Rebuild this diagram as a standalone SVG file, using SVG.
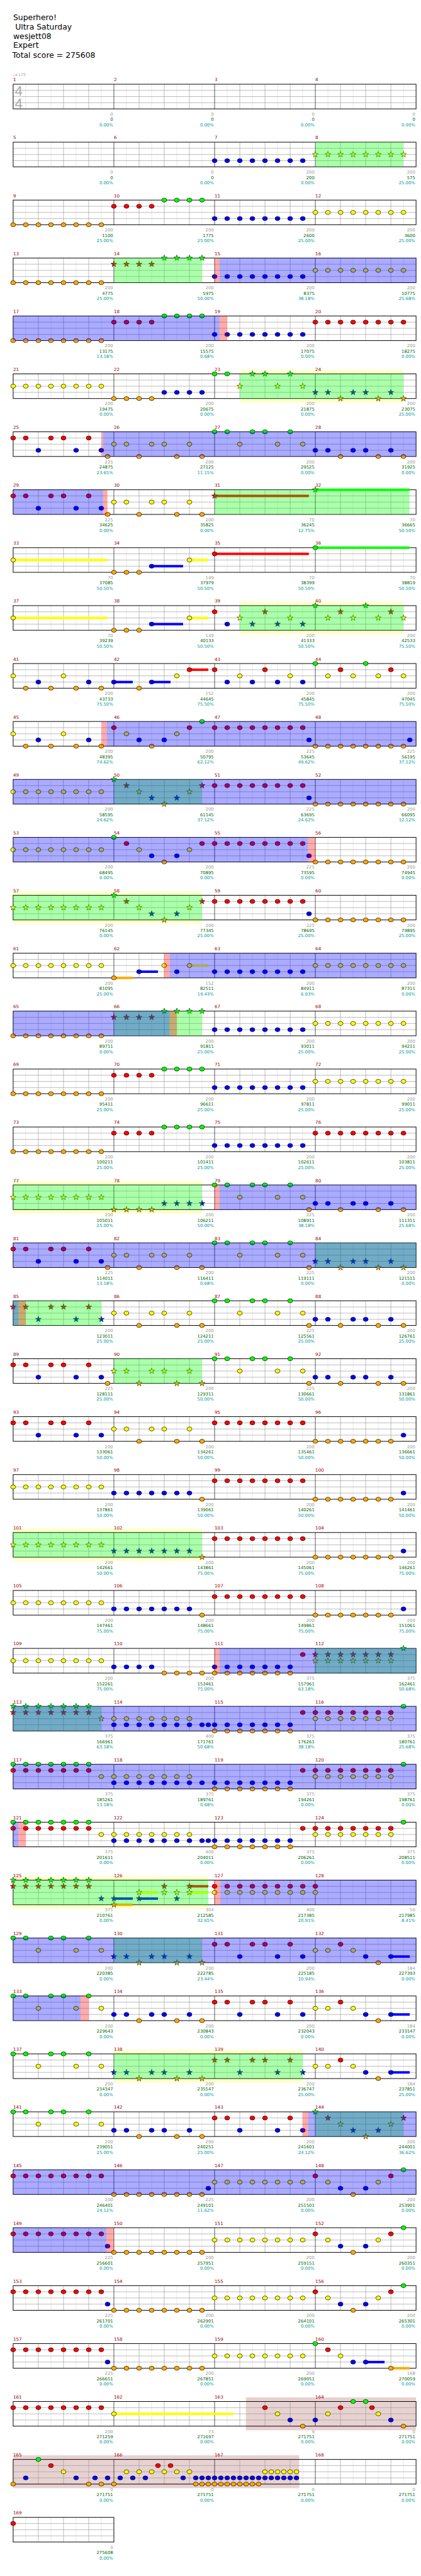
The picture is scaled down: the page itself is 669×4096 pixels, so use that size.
<svg xmlns="http://www.w3.org/2000/svg" width="669" height="4096" viewBox="0 0 669 4096">
<defs>
<style>
text{font-family:"DejaVu Sans",sans-serif}
.h{font-size:19px;fill:#000}
.mn{font-size:11px;fill:#900}
.t1,.t2,.t3{font-size:10.5px;text-anchor:end}
.t1{fill:#999}.t2{fill:#060}.t3{fill:#099}
.gr{fill:#0f0;fill-opacity:.33}
.bl{fill:#00f;fill-opacity:.33}
.pk{fill:#f00;fill-opacity:.33}
.yb{fill:#ffc}
.bx{fill:#800000;fill-opacity:.18}
</style>
<ellipse id="e" rx="6" ry="5" stroke="#000"/>
<path id="s" d="M0-7.5L1.76-2.43 7.13-2.32 2.85.93 4.41 6.07 0 3-4.41 6.07-2.85.93-7.13-2.32-1.76-2.43Z" stroke="#000" stroke-width=".8"/>
<g id="e4"><use href="#e"/><use href="#e" x="30.6"/><use href="#e" x="61.3"/><use href="#e" x="91.9"/></g>
<g id="e8"><use href="#e4"/><use href="#e4" x="122.5"/></g>
<g id="e7"><use href="#e4"/><use href="#e" x="122.5"/><use href="#e" x="153.1"/><use href="#e" x="183.8"/></g>
<g id="e5"><use href="#e"/><use href="#e" x="30.6"/><use href="#e" x="91.9"/><use href="#e" x="122.5"/><use href="#e" x="183.8"/></g>
<g id="e3"><use href="#e" x="61.3"/><use href="#e" x="153.1"/><use href="#e" x="214.4"/></g>
<g id="eo"><use href="#e" x="30.6"/><use href="#e" x="91.9"/><use href="#e" x="153.1"/><use href="#e" x="214.4"/></g>
<g id="ea"><use href="#e"/><use href="#e" x="122.5"/></g>
<g id="eb"><use href="#e" x="61.3"/><use href="#e" x="183.8"/></g>
<g id="s4"><use href="#s"/><use href="#s" x="30.6"/><use href="#s" x="61.3"/><use href="#s" x="91.9"/></g>
<g id="s8"><use href="#s4"/><use href="#s4" x="122.5"/></g>
<g id="s7"><use href="#s4"/><use href="#s" x="122.5"/><use href="#s" x="153.1"/><use href="#s" x="183.8"/></g>
<g id="s5"><use href="#s"/><use href="#s" x="30.6"/><use href="#s" x="91.9"/><use href="#s" x="122.5"/><use href="#s" x="183.8"/></g>
<g id="s3"><use href="#s" x="61.3"/><use href="#s" x="153.1"/><use href="#s" x="214.4"/></g>
<g id="o8"><use href="#e8" y="60" fill="#fa0"/></g>
<g id="r8"><use href="#e8" y="15" fill="#f00"/></g>
<g id="y8"><use href="#e8" y="30" fill="#ff0"/></g>
<g id="b8"><use href="#e8" y="45" fill="#00f"/></g>
<g id="Ys8"><use href="#s8" y="30" fill="#ff0"/></g>
<g id="RG"><use href="#e4" y="15" fill="#f00"/><use href="#e4" x="122.5" fill="#0f0"/></g>
<g id="sRG"><use href="#s4" y="15" fill="#f00"/><use href="#s4" x="122.5" fill="#0f0"/></g>
<g id="A"><use href="#e5" y="15" fill="#f00"/><use href="#e3" y="45" fill="#00f"/></g>
<g id="Bp"><use href="#e5" y="30" fill="#ff0"/><use href="#e3" y="60" fill="#fa0"/></g>
<g id="Cp"><use href="#e5" fill="#0f0"/><use href="#e3" y="30" fill="#ff0"/></g>
<g id="Dp"><use href="#e5" y="45" fill="#00f"/><use href="#e3" y="60" fill="#fa0"/></g>
<g id="sA"><use href="#s5" y="15" fill="#f00"/><use href="#s3" y="45" fill="#00f"/></g>
<g id="sBp"><use href="#s5" y="30" fill="#ff0"/><use href="#s3" y="60" fill="#fa0"/></g>
<g id="sDp"><use href="#s5" y="45" fill="#00f"/><use href="#s3" y="60" fill="#fa0"/></g>
<g id="E"><rect x="183.8" y="42" width="45.9" height="6" fill="#00f"/><use href="#e" y="30" fill="#ff0"/><use href="#e" x="30.6" y="30" fill="#ff0"/><use href="#e" x="61.3" y="15" fill="#f00"/><use href="#e" x="91.9" y="30" fill="#ff0"/><use href="#e" x="122.5" y="45" fill="#00f"/><use href="#e" x="153.1" y="60" fill="#fa0"/><use href="#e" x="183.8" y="45" fill="#00f"/></g>
<g id="P"><use href="#e" y="15" fill="#f00"/><use href="#e" x="30.6" y="30" fill="#ff0"/><use href="#e" x="61.3" y="45" fill="#00f"/><use href="#e" x="91.9" y="60" fill="#fa0"/><use href="#e" x="122.5" y="45" fill="#00f"/><use href="#e" x="153.1" y="30" fill="#ff0"/><use href="#e" x="183.8" y="15" fill="#f00"/><use href="#e" x="214.4" fill="#0f0"/></g>
<g id="SC"><use href="#e" fill="#0f0"/><use href="#e" x="30.6" y="15" fill="#f00"/><use href="#e" x="61.3" y="30" fill="#ff0"/><use href="#e" x="91.9" y="45" fill="#00f"/><use href="#e" x="122.5" y="60" fill="#fa0"/><use href="#e" x="153.1" y="45" fill="#00f"/><use href="#e" x="183.8" y="30" fill="#ff0"/><use href="#e" x="214.4" y="15" fill="#f00"/></g>
<g id="sSC"><use href="#s" fill="#0f0"/><use href="#s" x="30.6" y="15" fill="#f00"/><use href="#s" x="61.3" y="30" fill="#ff0"/><use href="#s" x="91.9" y="45" fill="#00f"/><use href="#s" x="122.5" y="60" fill="#fa0"/><use href="#s" x="153.1" y="45" fill="#00f"/><use href="#s" x="183.8" y="30" fill="#ff0"/><use href="#s" x="214.4" y="15" fill="#f00"/></g>
<g id="Q"><use href="#ea" y="30" fill="#ff0"/><use href="#eo" y="60" fill="#fa0"/><use href="#eb" y="45" fill="#00f"/></g>
<g id="O7B"><use href="#e7" y="60" fill="#fa0"/><use href="#e" x="214.4" y="45" fill="#00f"/></g>
<g id="B7O"><use href="#e7" y="45" fill="#00f"/><use href="#e" x="214.4" y="60" fill="#fa0"/></g>
<g id="sB7O"><use href="#s7" y="45" fill="#00f"/><use href="#s" x="214.4" y="60" fill="#fa0"/></g>
<g id="BOr"><use href="#e7" y="45" fill="#00f"/><use href="#e7" y="60" fill="#fa0"/><use href="#e" x="214.4" y="15" fill="#f00"/></g>
<g id="RYg"><use href="#e7" y="15" fill="#f00"/><use href="#e7" y="30" fill="#ff0"/><use href="#e" x="214.4" fill="#0f0"/></g>
<g id="GRy"><use href="#e7" fill="#0f0"/><use href="#e7" y="15" fill="#f00"/><use href="#e" x="214.4" y="30" fill="#ff0"/></g>
<g id="YB"><use href="#e7" y="30" fill="#ff0"/><use href="#e8" y="45" fill="#00f"/></g>
<g id="S1"><rect y="27" width="229.3" height="6" fill="#ff0"/><use href="#e" y="30" fill="#ff0"/></g>
<g id="S2"><use href="#e" y="60" fill="#fa0"/><use href="#e" x="30.6" y="60" fill="#fa0"/><use href="#e" x="61.3" y="60" fill="#fa0"/><rect x="91.9" y="42" width="76.4" height="6" fill="#00f"/><use href="#e" x="91.9" y="45" fill="#00f"/><rect x="183.8" y="27" width="45.9" height="6" fill="#ff0"/><use href="#e" x="183.8" y="30" fill="#ff0"/></g>
<g id="gd">
<path d="M30.6 0V60M91.9 0V60M153.1 0V60M214.4 0V60M275.6 0V60M336.9 0V60M398.1 0V60M459.4 0V60M520.6 0V60M581.9 0V60M643.1 0V60M704.4 0V60M765.6 0V60M826.9 0V60M888.1 0V60M949.4 0V60" stroke="#ddd"/>
<path d="M61.3 0V60M122.5 0V60M183.8 0V60M306.3 0V60M367.5 0V60M428.8 0V60M551.3 0V60M612.5 0V60M673.8 0V60M796.3 0V60M857.5 0V60M918.8 0V60M0 15H980M0 30H980M0 45H980" stroke="#999"/>
<path d="M245 0V60M490 0V60M735 0V60" stroke="#000"/>
<rect width="980" height="60" fill="none" stroke="#000" stroke-width="1.5"/>
</g>
<g id="gd1">
<path d="M30.6 0V60M91.9 0V60M153.1 0V60M214.4 0V60" stroke="#ddd"/>
<path d="M61.3 0V60M122.5 0V60M183.8 0V60M0 15H245M0 30H245M0 45H245" stroke="#999"/>
<rect width="245" height="60" fill="none" stroke="#000" stroke-width="1.5"/>
</g>
<text id="a200" y="76.5" fill="#999" font-size="10.5" text-anchor="end" font-family="DejaVu Sans, sans-serif"><tspan x="243">200</tspan><tspan x="488">200</tspan><tspan x="733">200</tspan><tspan x="978">200</tspan></text>
<text id="a0" y="76.5" fill="#999" font-size="10.5" text-anchor="end" font-family="DejaVu Sans, sans-serif"><tspan x="243">0</tspan><tspan x="488">0</tspan><tspan x="733">0</tspan><tspan x="978">0</tspan></text>
<text id="p0" y="102.5" fill="#099" font-size="10.5" text-anchor="end" font-family="DejaVu Sans, sans-serif"><tspan x="243">0.00%</tspan><tspan x="488">0.00%</tspan><tspan x="733">0.00%</tspan><tspan x="978">0.00%</tspan></text>
<text id="p25" y="102.5" fill="#099" font-size="10.5" text-anchor="end" font-family="DejaVu Sans, sans-serif"><tspan x="243">25.00%</tspan><tspan x="488">25.00%</tspan><tspan x="733">25.00%</tspan><tspan x="978">25.00%</tspan></text>
<text id="p50" y="102.5" fill="#099" font-size="10.5" text-anchor="end" font-family="DejaVu Sans, sans-serif"><tspan x="243">50.00%</tspan><tspan x="488">50.00%</tspan><tspan x="733">50.00%</tspan><tspan x="978">50.00%</tspan></text>
<text id="p75" y="102.5" fill="#099" font-size="10.5" text-anchor="end" font-family="DejaVu Sans, sans-serif"><tspan x="243">75.00%</tspan><tspan x="488">75.00%</tspan><tspan x="733">75.00%</tspan><tspan x="978">75.00%</tspan></text>
<text id="p505" y="102.5" fill="#099" font-size="10.5" text-anchor="end" font-family="DejaVu Sans, sans-serif"><tspan x="243">50.50%</tspan><tspan x="488">50.50%</tspan><tspan x="733">50.50%</tspan><tspan x="978">50.50%</tspan></text>
<text id="p755" y="102.5" fill="#099" font-size="10.5" text-anchor="end" font-family="DejaVu Sans, sans-serif"><tspan x="243">75.50%</tspan><tspan x="488">75.50%</tspan><tspan x="733">75.50%</tspan><tspan x="978">75.50%</tspan></text>
</defs>
<rect width="669" height="4096" fill="#fff"/>
<g transform="scale(0.6533)">
<g id="header">
<text class="h" x="32" y="49">Superhero!</text>
<text class="h" x="37" y="72">Ultra Saturday</text>
<text class="h" x="32" y="95">wesjett08</text>
<text class="h" x="32" y="117">Expert</text>
<text class="h" x="30" y="141">Total score = 275608</text>
<text x="31" y="185" font-size="10" fill="#aaa">♩=175</text>
</g>

<g id="row0" transform="translate(32,205)"><use href="#gd"/>
<text x="4" y="28" font-size="34" fill="#aaa" style="font-family:'Liberation Sans',sans-serif">4</text><text x="4" y="58" font-size="34" fill="#aaa" style="font-family:'Liberation Sans',sans-serif">4</text>
<text class="mn" y="-7"><tspan x="0">1</tspan><tspan x="245">2</tspan><tspan x="490">3</tspan><tspan x="735">4</tspan></text>
<use href="#a0"/><text class="t2" y="89.5"><tspan x="243">0</tspan><tspan x="488">0</tspan><tspan x="733">0</tspan><tspan x="978">0</tspan></text><use href="#p0"/></g>

<g id="row1" transform="translate(32,346)"><use href="#gd"/>
<use href="#b8" x="490"/><use href="#Ys8" x="735"/>
<rect class="gr" x="735" width="214.4" height="60"/>
<text class="mn" y="-7"><tspan x="0">5</tspan><tspan x="245">6</tspan><tspan x="490">7</tspan><tspan x="735">8</tspan></text>
<text class="t1" y="76.5"><tspan x="243">0</tspan><tspan x="488">0</tspan><tspan x="733">200</tspan><tspan x="978">200</tspan></text>
<text class="t2" y="89.5"><tspan x="243">0</tspan><tspan x="488">0</tspan><tspan x="733">200</tspan><tspan x="978">575</tspan></text>
<text class="t3" y="102.5"><tspan x="243">0.00%</tspan><tspan x="488">0.00%</tspan><tspan x="733">0.00%</tspan><tspan x="978">25.00%</tspan></text></g>

<g id="row2" transform="translate(32,487)"><use href="#gd"/>
<use href="#o8"/><use href="#RG" x="245"/><use href="#b8" x="490"/><use href="#y8" x="735"/>
<text class="mn" y="-7"><tspan x="0">9</tspan><tspan x="245">10</tspan><tspan x="490">11</tspan><tspan x="735">12</tspan></text>
<use href="#a200"/><text class="t2" y="89.5"><tspan x="243">1100</tspan><tspan x="488">1775</tspan><tspan x="733">2600</tspan><tspan x="978">3600</tspan></text><use href="#p25"/></g>

<g id="row3" transform="translate(32,628)"><use href="#gd"/>
<use href="#o8"/><use href="#sRG" x="245"/><use href="#b8" x="490"/><use href="#y8" x="735"/>
<rect class="gr" x="245" width="214.4" height="60"/><rect class="bl" x="502" width="478" height="60"/><rect class="pk" x="490" width="12" height="60"/>
<text class="mn" y="-7"><tspan x="0">13</tspan><tspan x="245">14</tspan><tspan x="490">15</tspan><tspan x="735">16</tspan></text>
<use href="#a200"/><text class="t2" y="89.5"><tspan x="243">4775</tspan><tspan x="488">5975</tspan><tspan x="733">8375</tspan><tspan x="978">10775</tspan></text>
<text class="t3" y="102.5"><tspan x="243">25.00%</tspan><tspan x="488">50.00%</tspan><tspan x="733">38.18%</tspan><tspan x="978">25.68%</tspan></text></g>

<g id="row4" transform="translate(32,769)"><use href="#gd"/>
<use href="#o8"/><use href="#RG" x="245"/><use href="#b8" x="490"/><use href="#r8" x="735"/>
<rect class="bl" width="502" height="60"/><rect class="pk" x="502" width="18.7" height="60"/>
<text class="mn" y="-7"><tspan x="0">17</tspan><tspan x="245">18</tspan><tspan x="490">19</tspan><tspan x="735">20</tspan></text>
<use href="#a200"/><text class="t2" y="89.5"><tspan x="243">13175</tspan><tspan x="488">15575</tspan><tspan x="733">17075</tspan><tspan x="978">18275</tspan></text>
<text class="t3" y="102.5"><tspan x="243">13.18%</tspan><tspan x="488">0.68%</tspan><tspan x="733">0.00%</tspan><tspan x="978">0.00%</tspan></text></g>

<g id="row5" transform="translate(32,910)">
<rect class="yb" x="551.3" y="-10" width="398.1" height="80"/><rect fill="#fff" x="551.3" width="398.1" height="60"/><use href="#gd"/>
<use href="#y8"/><use href="#e4" x="245" y="60" fill="#fa0"/><use href="#e4" x="367.5" y="45" fill="#00f"/><use href="#e" x="490" fill="#0f0"/><use href="#e" x="520.6" fill="#0f0"/><use href="#s3" x="490" y="30" fill="#ff0"/><use href="#s" x="581.9" fill="#0f0"/><use href="#s" x="612.5" fill="#0f0"/><use href="#s" x="673.8" fill="#0f0"/><use href="#sDp" x="735"/>
<rect class="gr" x="551.3" width="398.1" height="60"/>
<text class="mn" y="-7"><tspan x="0">21</tspan><tspan x="245">22</tspan><tspan x="490">23</tspan><tspan x="735">24</tspan></text>
<use href="#a200"/><text class="t2" y="89.5"><tspan x="243">19475</tspan><tspan x="488">20675</tspan><tspan x="733">21875</tspan><tspan x="978">23075</tspan></text>
<text class="t3" y="102.5"><tspan x="243">0.00%</tspan><tspan x="488">0.00%</tspan><tspan x="733">0.00%</tspan><tspan x="978">25.00%</tspan></text></g>

<g id="row6" transform="translate(32,1051)"><use href="#gd"/>
<use href="#A"/><use href="#e" x="229.7" y="60" fill="#fa0"/><use href="#Bp" x="245"/><use href="#Cp" x="490"/><use href="#Dp" x="735"/>
<rect class="bl" x="218.7" width="761.3" height="60"/><rect class="pk" x="214.4" width="4.3" height="60"/>
<text class="mn" y="-7"><tspan x="0">25</tspan><tspan x="245">26</tspan><tspan x="490">27</tspan><tspan x="735">28</tspan></text>
<text class="t1" y="76.5"><tspan x="243">225</tspan><tspan x="488">200</tspan><tspan x="733">200</tspan><tspan x="978">200</tspan></text>
<text class="t2" y="89.5"><tspan x="243">24875</tspan><tspan x="488">27125</tspan><tspan x="733">29525</tspan><tspan x="978">31925</tspan></text>
<text class="t3" y="102.5"><tspan x="243">23.65%</tspan><tspan x="488">11.15%</tspan><tspan x="733">0.00%</tspan><tspan x="978">0.00%</tspan></text></g>

<g id="row7" transform="translate(32,1192)"><use href="#gd"/>
<use href="#A"/><use href="#e" x="229.7" y="60" fill="#fa0"/><use href="#Bp" x="245"/><rect x="490" y="12" width="229.3" height="6" fill="#f00"/><use href="#s" x="490" y="15" fill="#f00"/><rect x="735" y="-3" width="229" height="6" fill="#0f0"/><use href="#s" x="735" fill="#0f0"/>
<rect class="gr" x="490" width="474" height="60"/><rect class="bl" width="218.7" height="60"/><rect class="pk" x="218.7" width="10.6" height="60"/>
<text class="mn" y="-7"><tspan x="0">29</tspan><tspan x="245">30</tspan><tspan x="490">31</tspan><tspan x="735">32</tspan></text>
<text class="t1" y="76.5"><tspan x="243">225</tspan><tspan x="488">200</tspan><tspan x="733">70</tspan><tspan x="978">70</tspan></text>
<text class="t2" y="89.5"><tspan x="243">34625</tspan><tspan x="488">35825</tspan><tspan x="733">36245</tspan><tspan x="978">36665</tspan></text>
<text class="t3" y="102.5"><tspan x="243">0.00%</tspan><tspan x="488">0.00%</tspan><tspan x="733">12.75%</tspan><tspan x="978">50.50%</tspan></text></g>

<g id="row8" transform="translate(32,1333)"><use href="#gd"/>
<use href="#S1"/><use href="#S2" x="245"/><rect x="490" y="12" width="229.3" height="6" fill="#f00"/><use href="#e" x="490" y="15" fill="#f00"/><rect x="735" y="-3" width="229" height="6" fill="#0f0"/><use href="#e" x="735" fill="#0f0"/>
<text class="mn" y="-7"><tspan x="0">33</tspan><tspan x="245">34</tspan><tspan x="490">35</tspan><tspan x="735">36</tspan></text>
<text class="t1" y="76.5"><tspan x="243">70</tspan><tspan x="488">149</tspan><tspan x="733">70</tspan><tspan x="978">70</tspan></text>
<text class="t2" y="89.5"><tspan x="243">37085</tspan><tspan x="488">37979</tspan><tspan x="733">38399</tspan><tspan x="978">38819</tspan></text>
<use href="#p505"/></g>

<g id="row9" transform="translate(32,1474)">
<rect class="yb" x="551.3" y="-10" width="398.1" height="80"/><rect fill="#fff" x="551.3" width="398.1" height="60"/><use href="#gd"/>
<use href="#S1"/><use href="#S2" x="245"/><use href="#e" x="490" y="15" fill="#f00"/><use href="#e" x="520.6" y="45" fill="#00f"/>
<use href="#s" x="551.3" y="30" fill="#ff0"/><use href="#s" x="581.9" y="45" fill="#00f"/><use href="#s" x="612.5" y="15" fill="#f00"/><use href="#s" x="643.1" y="45" fill="#00f"/><use href="#s" x="673.8" y="30" fill="#ff0"/><use href="#s" x="704.4" y="45" fill="#00f"/>
<use href="#s" x="735" fill="#0f0"/><use href="#s" x="765.6" y="30" fill="#ff0"/><use href="#s" x="796.3" y="15" fill="#f00"/><use href="#s" x="826.9" y="30" fill="#ff0"/><use href="#s" x="857.5" fill="#0f0"/><use href="#s" x="888.1" y="30" fill="#ff0"/><use href="#s" x="918.8" y="15" fill="#f00"/><use href="#s" x="949.4" y="30" fill="#ff0"/>
<rect class="gr" x="551.3" width="398.1" height="60"/>
<text class="mn" y="-7"><tspan x="0">37</tspan><tspan x="245">38</tspan><tspan x="490">39</tspan><tspan x="735">40</tspan></text>
<text class="t1" y="76.5"><tspan x="243">70</tspan><tspan x="488">149</tspan><tspan x="733">200</tspan><tspan x="978">200</tspan></text>
<text class="t2" y="89.5"><tspan x="243">39239</tspan><tspan x="488">40133</tspan><tspan x="733">41333</tspan><tspan x="978">42533</tspan></text>
<text class="t3" y="102.5"><tspan x="243">50.50%</tspan><tspan x="488">50.50%</tspan><tspan x="733">50.50%</tspan><tspan x="978">75.50%</tspan></text></g>

<g id="row10" transform="translate(32,1615)"><use href="#gd"/>
<use href="#Q"/>
<rect x="245" y="42" width="45.9" height="6" fill="#00f"/><use href="#e" x="245" y="45" fill="#00f"/><use href="#e" x="306.3" y="60" fill="#fa0"/><rect x="336.9" y="42" width="45.9" height="6" fill="#00f"/><use href="#e" x="336.9" y="45" fill="#00f"/><use href="#e" x="398.1" y="30" fill="#ff0"/><rect x="428.8" y="12" width="45.9" height="6" fill="#f00"/><use href="#e" x="428.8" y="15" fill="#f00"/>
<use href="#ea" x="490" y="15" fill="#f00"/><use href="#eb" x="490" y="30" fill="#ff0"/><use href="#eo" x="490" y="45" fill="#00f"/>
<use href="#ea" x="735" fill="#0f0"/><use href="#eo" x="735" y="30" fill="#ff0"/><use href="#eb" x="735" y="15" fill="#f00"/>
<text class="mn" y="-7"><tspan x="0">41</tspan><tspan x="245">42</tspan><tspan x="490">43</tspan><tspan x="735">44</tspan></text>
<text class="t1" y="76.5"><tspan x="243">200</tspan><tspan x="488">152</tspan><tspan x="733">200</tspan><tspan x="978">200</tspan></text>
<text class="t2" y="89.5"><tspan x="243">43733</tspan><tspan x="488">44645</tspan><tspan x="733">45845</tspan><tspan x="978">47045</tspan></text>
<use href="#p755"/></g>

<g id="row11" transform="translate(32,1756)"><use href="#gd"/>
<use href="#Q"/><use href="#P" x="245"/><use href="#r8" x="490"/><use href="#e" x="719.7" y="45" fill="#00f"/><use href="#o8" x="735"/><use href="#e" x="964.7" y="45" fill="#00f"/>
<rect class="bl" x="227.3" width="752.7" height="60"/><rect class="pk" x="214.7" width="12.6" height="60"/>
<text class="mn" y="-7"><tspan x="0">45</tspan><tspan x="245">46</tspan><tspan x="490">47</tspan><tspan x="735">48</tspan></text>
<text class="t1" y="76.5"><tspan x="243">200</tspan><tspan x="488">200</tspan><tspan x="733">225</tspan><tspan x="978">225</tspan></text>
<text class="t2" y="89.5"><tspan x="243">48395</tspan><tspan x="488">50795</tspan><tspan x="733">53645</tspan><tspan x="978">56195</tspan></text>
<text class="t3" y="102.5"><tspan x="243">74.62%</tspan><tspan x="488">62.12%</tspan><tspan x="733">49.62%</tspan><tspan x="978">37.12%</tspan></text></g>

<g id="row12" transform="translate(32,1897)"><use href="#gd"/>
<use href="#y8"/><use href="#sSC" x="245"/><use href="#r8" x="490"/><use href="#e" x="719.7" y="45" fill="#00f"/><use href="#o8" x="735"/>
<rect class="gr" x="245" width="214.4" height="60"/><rect class="bl" width="980" height="60"/>
<text class="mn" y="-7"><tspan x="0">49</tspan><tspan x="245">50</tspan><tspan x="490">51</tspan><tspan x="735">52</tspan></text>
<text class="t1" y="76.5"><tspan x="243">200</tspan><tspan x="488">200</tspan><tspan x="733">225</tspan><tspan x="978">200</tspan></text>
<text class="t2" y="89.5"><tspan x="243">58595</tspan><tspan x="488">61145</tspan><tspan x="733">63695</tspan><tspan x="978">66095</tspan></text>
<text class="t3" y="102.5"><tspan x="243">24.62%</tspan><tspan x="488">37.12%</tspan><tspan x="733">24.62%</tspan><tspan x="978">12.12%</tspan></text></g>

<g id="row13" transform="translate(32,2038)"><use href="#gd"/>
<use href="#y8"/><use href="#SC" x="245"/><use href="#r8" x="490"/><use href="#e" x="719.7" y="45" fill="#00f"/><use href="#o8" x="735"/>
<rect class="bl" width="717.3" height="60"/><rect class="pk" x="717.3" width="17.7" height="60"/>
<text class="mn" y="-7"><tspan x="0">53</tspan><tspan x="245">54</tspan><tspan x="490">55</tspan><tspan x="735">56</tspan></text>
<text class="t1" y="76.5"><tspan x="243">200</tspan><tspan x="488">200</tspan><tspan x="733">225</tspan><tspan x="978">200</tspan></text>
<text class="t2" y="89.5"><tspan x="243">68495</tspan><tspan x="488">70895</tspan><tspan x="733">73595</tspan><tspan x="978">74945</tspan></text>
<use href="#p0"/></g>

<g id="row14" transform="translate(32,2179)">
<rect class="yb" y="-10" width="459.4" height="80"/><rect fill="#fff" width="459.4" height="60"/><use href="#gd"/>
<use href="#Ys8"/><use href="#sSC" x="245"/><use href="#r8" x="490"/><use href="#e" x="719.7" y="45" fill="#00f"/><use href="#o8" x="735"/>
<rect class="gr" width="459.4" height="60"/>
<text class="mn" y="-7"><tspan x="0">57</tspan><tspan x="245">58</tspan><tspan x="490">59</tspan><tspan x="735">60</tspan></text>
<text class="t1" y="76.5"><tspan x="243">200</tspan><tspan x="488">200</tspan><tspan x="733">225</tspan><tspan x="978">200</tspan></text>
<text class="t2" y="89.5"><tspan x="243">76145</tspan><tspan x="488">77345</tspan><tspan x="733">78695</tspan><tspan x="978">79895</tspan></text>
<text class="t3" y="102.5"><tspan x="243">0.00%</tspan><tspan x="488">25.00%</tspan><tspan x="733">25.00%</tspan><tspan x="978">25.00%</tspan></text></g>

<g id="row15" transform="translate(32,2320)"><use href="#gd"/>
<use href="#y8"/>
<rect x="245" y="57" width="45.9" height="6" fill="#fa0"/><use href="#e" x="245" y="60" fill="#fa0"/><rect x="306.3" y="42" width="45.9" height="6" fill="#00f"/><use href="#e" x="306.3" y="45" fill="#00f"/><use href="#e" x="367.5" y="30" fill="#ff0"/><use href="#e" x="398.1" y="45" fill="#00f"/><rect x="428.8" y="27" width="45.9" height="6" fill="#ff0"/><use href="#e" x="428.8" y="30" fill="#ff0"/>
<use href="#b8" x="490"/><use href="#y8" x="735"/>
<rect class="bl" x="380.7" width="599.3" height="60"/><rect class="pk" x="367.3" width="13.4" height="60"/>
<text class="mn" y="-7"><tspan x="0">61</tspan><tspan x="245">62</tspan><tspan x="490">63</tspan><tspan x="735">64</tspan></text>
<text class="t1" y="76.5"><tspan x="243">200</tspan><tspan x="488">152</tspan><tspan x="733">200</tspan><tspan x="978">200</tspan></text>
<text class="t2" y="89.5"><tspan x="243">81095</tspan><tspan x="488">82511</tspan><tspan x="733">84911</tspan><tspan x="978">87311</tspan></text>
<text class="t3" y="102.5"><tspan x="243">25.00%</tspan><tspan x="488">19.43%</tspan><tspan x="733">6.93%</tspan><tspan x="978">0.00%</tspan></text></g>

<g id="row16" transform="translate(32,2461)"><use href="#gd"/>
<use href="#o8"/><use href="#sRG" x="245"/><use href="#b8" x="490"/><use href="#y8" x="735"/>
<rect class="gr" x="245" width="214.4" height="60"/><rect class="bl" width="380.7" height="60"/><rect class="pk" x="380.7" width="17.3" height="60"/>
<text class="mn" y="-7"><tspan x="0">65</tspan><tspan x="245">66</tspan><tspan x="490">67</tspan><tspan x="735">68</tspan></text>
<use href="#a200"/><text class="t2" y="89.5"><tspan x="243">89711</tspan><tspan x="488">91811</tspan><tspan x="733">93011</tspan><tspan x="978">94211</tspan></text>
<text class="t3" y="102.5"><tspan x="243">0.00%</tspan><tspan x="488">25.00%</tspan><tspan x="733">25.00%</tspan><tspan x="978">25.00%</tspan></text></g>

<g id="row17" transform="translate(32,2602)"><use href="#gd"/>
<use href="#o8"/><use href="#RG" x="245"/><use href="#b8" x="490"/><use href="#y8" x="735"/>
<text class="mn" y="-7"><tspan x="0">69</tspan><tspan x="245">70</tspan><tspan x="490">71</tspan><tspan x="735">72</tspan></text>
<use href="#a200"/><text class="t2" y="89.5"><tspan x="243">95411</tspan><tspan x="488">96611</tspan><tspan x="733">97811</tspan><tspan x="978">99011</tspan></text><use href="#p25"/></g>

<g id="row18" transform="translate(32,2743)"><use href="#gd"/>
<use href="#o8"/><use href="#RG" x="245"/><use href="#b8" x="490"/><use href="#r8" x="735"/>
<text class="mn" y="-7"><tspan x="0">73</tspan><tspan x="245">74</tspan><tspan x="490">75</tspan><tspan x="735">76</tspan></text>
<use href="#a200"/><text class="t2" y="89.5"><tspan x="243">100211</tspan><tspan x="488">101411</tspan><tspan x="733">102611</tspan><tspan x="978">103811</tspan></text><use href="#p25"/></g>

<g id="row19" transform="translate(32,2884)">
<rect class="yb" y="-10" width="459.4" height="80"/><rect fill="#fff" width="459.4" height="60"/><use href="#gd"/>
<use href="#Ys8"/><use href="#s4" x="245" y="60" fill="#fa0"/><use href="#s4" x="367.5" y="45" fill="#00f"/><use href="#Cp" x="490"/><use href="#e" x="719.7" y="60" fill="#fa0"/><use href="#Dp" x="735"/>
<rect class="gr" width="459.4" height="60"/><rect class="bl" x="502" width="478" height="60"/><rect class="pk" x="490" width="12" height="60"/>
<text class="mn" y="-7"><tspan x="0">77</tspan><tspan x="245">78</tspan><tspan x="490">79</tspan><tspan x="735">80</tspan></text>
<text class="t1" y="76.5"><tspan x="243">200</tspan><tspan x="488">200</tspan><tspan x="733">225</tspan><tspan x="978">200</tspan></text>
<text class="t2" y="89.5"><tspan x="243">105011</tspan><tspan x="488">106211</tspan><tspan x="733">108911</tspan><tspan x="978">111311</tspan></text>
<text class="t3" y="102.5"><tspan x="243">25.00%</tspan><tspan x="488">50.00%</tspan><tspan x="733">38.18%</tspan><tspan x="978">25.68%</tspan></text></g>

<g id="row20" transform="translate(32,3025)"><use href="#gd"/>
<use href="#A"/><use href="#e" x="229.7" y="60" fill="#fa0"/><use href="#Bp" x="245"/><use href="#Cp" x="490"/><use href="#e" x="719.7" y="60" fill="#fa0"/><use href="#sDp" x="735"/>
<rect class="gr" x="735" width="245" height="60"/><rect class="bl" width="980" height="60"/>
<text class="mn" y="-7"><tspan x="0">81</tspan><tspan x="245">82</tspan><tspan x="490">83</tspan><tspan x="735">84</tspan></text>
<text class="t1" y="76.5"><tspan x="243">225</tspan><tspan x="488">200</tspan><tspan x="733">225</tspan><tspan x="978">200</tspan></text>
<text class="t2" y="89.5"><tspan x="243">114011</tspan><tspan x="488">116411</tspan><tspan x="733">119111</tspan><tspan x="978">121511</tspan></text>
<text class="t3" y="102.5"><tspan x="243">13.18%</tspan><tspan x="488">0.68%</tspan><tspan x="733">0.00%</tspan><tspan x="978">0.00%</tspan></text></g>

<g id="row21" transform="translate(32,3166)"><use href="#gd"/>
<use href="#sA"/><use href="#Bp" x="245"/><use href="#Cp" x="490"/><use href="#e" x="719.7" y="60" fill="#fa0"/><use href="#Dp" x="735"/>
<rect class="gr" width="214.7" height="60"/><rect class="bl" width="12.7" height="60"/><rect class="pk" x="12.7" width="18" height="60"/>
<text class="mn" y="-7"><tspan x="0">85</tspan><tspan x="245">86</tspan><tspan x="490">87</tspan><tspan x="735">88</tspan></text>
<text class="t1" y="76.5"><tspan x="243">200</tspan><tspan x="488">200</tspan><tspan x="733">225</tspan><tspan x="978">200</tspan></text>
<text class="t2" y="89.5"><tspan x="243">123011</tspan><tspan x="488">124211</tspan><tspan x="733">125561</tspan><tspan x="978">126761</tspan></text>
<use href="#p25"/></g>

<g id="row22" transform="translate(32,3307)"><use href="#gd"/>
<use href="#A"/><use href="#e" x="229.7" y="60" fill="#fa0"/><use href="#sBp" x="245"/><use href="#Cp" x="490"/><use href="#e" x="719.7" y="60" fill="#fa0"/><use href="#Dp" x="735"/>
<rect class="gr" x="245" width="214.4" height="60"/>
<text class="mn" y="-7"><tspan x="0">89</tspan><tspan x="245">90</tspan><tspan x="490">91</tspan><tspan x="735">92</tspan></text>
<text class="t1" y="76.5"><tspan x="243">225</tspan><tspan x="488">200</tspan><tspan x="733">225</tspan><tspan x="978">200</tspan></text>
<text class="t2" y="89.5"><tspan x="243">128111</tspan><tspan x="488">129311</tspan><tspan x="733">130661</tspan><tspan x="978">131861</tspan></text>
<text class="t3" y="102.5"><tspan x="243">25.00%</tspan><tspan x="488">50.00%</tspan><tspan x="733">50.00%</tspan><tspan x="978">50.00%</tspan></text></g>

<g id="row23" transform="translate(32,3448)"><use href="#gd"/>
<use href="#A"/><use href="#Bp" x="245"/><use href="#r8" x="490"/><use href="#O7B" x="735"/>
<text class="mn" y="-7"><tspan x="0">93</tspan><tspan x="245">94</tspan><tspan x="490">95</tspan><tspan x="735">96</tspan></text>
<use href="#a200"/><text class="t2" y="89.5"><tspan x="243">133061</tspan><tspan x="488">134261</tspan><tspan x="733">135461</tspan><tspan x="978">136661</tspan></text><use href="#p50"/></g>

<g id="row24" transform="translate(32,3589)"><use href="#gd"/>
<use href="#y8"/><use href="#B7O" x="245"/><use href="#r8" x="490"/><use href="#O7B" x="735"/>
<text class="mn" y="-7"><tspan x="0">97</tspan><tspan x="245">98</tspan><tspan x="490">99</tspan><tspan x="735">100</tspan></text>
<use href="#a200"/><text class="t2" y="89.5"><tspan x="243">137861</tspan><tspan x="488">139061</tspan><tspan x="733">140261</tspan><tspan x="978">141461</tspan></text><use href="#p50"/></g>

<g id="row25" transform="translate(32,3730)">
<rect class="yb" y="-10" width="459.4" height="80"/><rect fill="#fff" width="459.4" height="60"/><use href="#gd"/>
<use href="#Ys8"/><use href="#sB7O" x="245"/><use href="#r8" x="490"/><use href="#O7B" x="735"/>
<rect class="gr" width="459.4" height="60"/>
<text class="mn" y="-7"><tspan x="0">101</tspan><tspan x="245">102</tspan><tspan x="490">103</tspan><tspan x="735">104</tspan></text>
<use href="#a200"/><text class="t2" y="89.5"><tspan x="243">142661</tspan><tspan x="488">143861</tspan><tspan x="733">145061</tspan><tspan x="978">146261</tspan></text>
<text class="t3" y="102.5"><tspan x="243">50.00%</tspan><tspan x="488">75.00%</tspan><tspan x="733">75.00%</tspan><tspan x="978">75.00%</tspan></text></g>

<g id="row26" transform="translate(32,3871)"><use href="#gd"/>
<use href="#y8"/><use href="#B7O" x="245"/><use href="#r8" x="490"/><use href="#O7B" x="735"/>
<text class="mn" y="-7"><tspan x="0">105</tspan><tspan x="245">106</tspan><tspan x="490">107</tspan><tspan x="735">108</tspan></text>
<use href="#a200"/><text class="t2" y="89.5"><tspan x="243">147461</tspan><tspan x="488">148661</tspan><tspan x="733">149861</tspan><tspan x="978">151061</tspan></text><use href="#p75"/></g>

<g id="row27" transform="translate(32,4012)"><use href="#gd"/>
<use href="#y8"/><use href="#e4" x="245" y="45" fill="#00f"/><use href="#e4" x="367.5" y="60" fill="#fa0"/><use href="#BOr" x="490"/><use href="#s7" x="735" y="15" fill="#f00"/><use href="#s7" x="735" y="30" fill="#ff0"/><use href="#s" x="949.4" fill="#0f0"/>
<rect class="gr" x="735" width="245" height="60"/><rect class="bl" x="502" width="478" height="60"/><rect class="pk" x="490" width="12" height="60"/>
<text class="mn" y="-7"><tspan x="0">109</tspan><tspan x="245">110</tspan><tspan x="490">111</tspan><tspan x="735">112</tspan></text>
<text class="t1" y="76.5"><tspan x="243">200</tspan><tspan x="488">200</tspan><tspan x="733">375</tspan><tspan x="978">375</tspan></text>
<text class="t2" y="89.5"><tspan x="243">152261</tspan><tspan x="488">153461</tspan><tspan x="733">157961</tspan><tspan x="978">162461</tspan></text>
<text class="t3" y="102.5"><tspan x="243">75.00%</tspan><tspan x="488">75.00%</tspan><tspan x="733">63.18%</tspan><tspan x="978">50.68%</tspan></text></g>

<g id="row28" transform="translate(32,4153)"><use href="#gd"/>
<use href="#s7" fill="#0f0"/><use href="#s7" y="15" fill="#f00"/><use href="#s" x="214.4" y="30" fill="#ff0"/><use href="#YB" x="245"/><use href="#e" x="474.7" y="45" fill="#00f"/><use href="#BOr" x="490"/><use href="#RYg" x="735"/>
<rect class="gr" width="214.7" height="60"/><rect class="bl" width="980" height="60"/>
<text class="mn" y="-7"><tspan x="0">113</tspan><tspan x="245">114</tspan><tspan x="490">115</tspan><tspan x="735">116</tspan></text>
<text class="t1" y="76.5"><tspan x="243">375</tspan><tspan x="488">400</tspan><tspan x="733">375</tspan><tspan x="978">375</tspan></text>
<text class="t2" y="89.5"><tspan x="243">166961</tspan><tspan x="488">171761</tspan><tspan x="733">176261</tspan><tspan x="978">180761</tspan></text>
<text class="t3" y="102.5"><tspan x="243">63.18%</tspan><tspan x="488">50.68%</tspan><tspan x="733">38.18%</tspan><tspan x="978">25.68%</tspan></text></g>

<g id="row29" transform="translate(32,4294)"><use href="#gd"/>
<use href="#GRy"/><use href="#YB" x="245"/><use href="#BOr" x="490"/><use href="#RYg" x="735"/>
<rect class="bl" width="980" height="60"/>
<text class="mn" y="-7"><tspan x="0">117</tspan><tspan x="245">118</tspan><tspan x="490">119</tspan><tspan x="735">120</tspan></text>
<text class="t1" y="76.5"><tspan x="243">375</tspan><tspan x="488">375</tspan><tspan x="733">375</tspan><tspan x="978">375</tspan></text>
<text class="t2" y="89.5"><tspan x="243">185261</tspan><tspan x="488">189761</tspan><tspan x="733">194261</tspan><tspan x="978">198761</tspan></text>
<text class="t3" y="102.5"><tspan x="243">13.18%</tspan><tspan x="488">0.68%</tspan><tspan x="733">0.00%</tspan><tspan x="978">0.00%</tspan></text></g>

<g id="row30" transform="translate(32,4435)"><use href="#gd"/>
<use href="#GRy"/><use href="#YB" x="245"/><use href="#e" x="474.7" y="45" fill="#00f"/><use href="#BOr" x="490"/><use href="#RYg" x="735"/>
<rect class="bl" width="12.7" height="60"/><rect class="pk" x="12.7" width="18" height="60"/>
<text class="mn" y="-7"><tspan x="0">121</tspan><tspan x="245">122</tspan><tspan x="490">123</tspan><tspan x="735">124</tspan></text>
<text class="t1" y="76.5"><tspan x="243">375</tspan><tspan x="488">400</tspan><tspan x="733">375</tspan><tspan x="978">375</tspan></text>
<text class="t2" y="89.5"><tspan x="243">201611</tspan><tspan x="488">204011</tspan><tspan x="733">206261</tspan><tspan x="978">208511</tspan></text>
<use href="#p0"/></g>

<g id="row31" transform="translate(32,4576)">
<rect class="yb" y="-10" width="474.7" height="80"/><rect fill="#fff" width="474.7" height="60"/><use href="#gd"/>
<use href="#s7" fill="#0f0"/><use href="#s7" y="15" fill="#f00"/><use href="#s" x="214.4" y="45" fill="#00f"/>
<rect x="245" y="42" width="45.9" height="6" fill="#00f"/><rect x="245" y="57" width="45.9" height="6" fill="#fa0"/><rect x="306.3" y="27" width="45.9" height="6" fill="#ff0"/><rect x="306.3" y="42" width="45.9" height="6" fill="#00f"/><rect x="428.8" y="12" width="45.9" height="6" fill="#f00"/><rect x="428.8" y="27" width="45.9" height="6" fill="#ff0"/>
<use href="#s" x="245" y="45" fill="#00f"/><use href="#s" x="245" y="60" fill="#fa0"/><use href="#s" x="306.3" y="30" fill="#ff0"/><use href="#s" x="306.3" y="45" fill="#00f"/><use href="#s" x="367.5" y="15" fill="#f00"/><use href="#s" x="367.5" y="30" fill="#ff0"/><use href="#s" x="398.1" y="30" fill="#ff0"/><use href="#s" x="398.1" y="45" fill="#00f"/><use href="#s" x="428.8" y="15" fill="#f00"/><use href="#s" x="428.8" y="30" fill="#ff0"/>
<use href="#r8" x="490"/><use href="#y8" x="490"/><use href="#e" x="735" y="15" fill="#f00"/><use href="#e" x="735" y="30" fill="#ff0"/>
<rect class="gr" width="474.7" height="60"/><rect class="bl" x="504" width="476" height="60"/><rect class="pk" x="490" width="14" height="60"/>
<text class="mn" y="-7"><tspan x="0">125</tspan><tspan x="245">126</tspan><tspan x="490">127</tspan><tspan x="735">128</tspan></text>
<text class="t1" y="76.5"><tspan x="243">375</tspan><tspan x="488">304</tspan><tspan x="733">400</tspan><tspan x="978">50</tspan></text>
<text class="t2" y="89.5"><tspan x="243">210761</tspan><tspan x="488">212585</tspan><tspan x="733">217385</tspan><tspan x="978">217985</tspan></text>
<text class="t3" y="102.5"><tspan x="243">0.00%</tspan><tspan x="488">32.65%</tspan><tspan x="733">20.91%</tspan><tspan x="978">8.41%</tspan></text></g>

<g id="row32" transform="translate(32,4717)"><use href="#gd"/>
<use href="#Cp"/><use href="#sDp" x="245"/><use href="#A" x="490"/><use href="#E" x="735"/>
<rect class="gr" x="245" width="214.4" height="60"/><rect class="bl" width="980" height="60"/>
<text class="mn" y="-7"><tspan x="0">129</tspan><tspan x="245">130</tspan><tspan x="490">131</tspan><tspan x="735">132</tspan></text>
<text class="t1" y="76.5"><tspan x="243">200</tspan><tspan x="488">200</tspan><tspan x="733">200</tspan><tspan x="978">184</tspan></text>
<text class="t2" y="89.5"><tspan x="243">220385</tspan><tspan x="488">222785</tspan><tspan x="733">225185</tspan><tspan x="978">227393</tspan></text>
<text class="t3" y="102.5"><tspan x="243">0.00%</tspan><tspan x="488">23.44%</tspan><tspan x="733">10.94%</tspan><tspan x="978">0.00%</tspan></text></g>

<g id="row33" transform="translate(32,4858)"><use href="#gd"/>
<use href="#Cp"/><use href="#Dp" x="245"/><use href="#A" x="490"/><use href="#E" x="735"/>
<rect class="bl" width="164" height="60"/><rect class="pk" x="164" width="19.3" height="60"/>
<text class="mn" y="-7"><tspan x="0">133</tspan><tspan x="245">134</tspan><tspan x="490">135</tspan><tspan x="735">136</tspan></text>
<text class="t1" y="76.5"><tspan x="243">200</tspan><tspan x="488">200</tspan><tspan x="733">200</tspan><tspan x="978">184</tspan></text>
<text class="t2" y="89.5"><tspan x="243">229643</tspan><tspan x="488">230843</tspan><tspan x="733">232043</tspan><tspan x="978">233147</tspan></text>
<use href="#p0"/></g>

<g id="row34" transform="translate(32,4999)">
<rect class="yb" x="245" y="-10" width="459.4" height="80"/><rect fill="#fff" x="245" width="459.4" height="60"/><use href="#gd"/>
<use href="#Cp"/><use href="#sDp" x="245"/><use href="#sA" x="490"/><use href="#E" x="735"/>
<rect class="gr" x="245" width="459.4" height="60"/>
<text class="mn" y="-7"><tspan x="0">137</tspan><tspan x="245">138</tspan><tspan x="490">139</tspan><tspan x="735">140</tspan></text>
<text class="t1" y="76.5"><tspan x="243">200</tspan><tspan x="488">200</tspan><tspan x="733">200</tspan><tspan x="978">184</tspan></text>
<text class="t2" y="89.5"><tspan x="243">234347</tspan><tspan x="488">235547</tspan><tspan x="733">236747</tspan><tspan x="978">237851</tspan></text>
<text class="t3" y="102.5"><tspan x="243">0.00%</tspan><tspan x="488">0.00%</tspan><tspan x="733">25.00%</tspan><tspan x="978">25.00%</tspan></text></g>

<g id="row35" transform="translate(32,5140)"><use href="#gd"/>
<use href="#Cp"/><use href="#Dp" x="245"/><use href="#A" x="490"/><use href="#sSC" x="735"/>
<rect class="gr" x="735" width="214.4" height="60"/><rect class="bl" x="717.3" width="262.7" height="60"/><rect class="pk" x="704" width="13.3" height="60"/>
<text class="mn" y="-7"><tspan x="0">141</tspan><tspan x="245">142</tspan><tspan x="490">143</tspan><tspan x="735">144</tspan></text>
<use href="#a200"/><text class="t2" y="89.5"><tspan x="243">239051</tspan><tspan x="488">240251</tspan><tspan x="733">241601</tspan><tspan x="978">244001</tspan></text>
<text class="t3" y="102.5"><tspan x="243">25.00%</tspan><tspan x="488">25.00%</tspan><tspan x="733">24.12%</tspan><tspan x="978">36.62%</tspan></text></g>

<g id="row36" transform="translate(32,5281)"><use href="#gd"/>
<use href="#r8"/><use href="#o8" x="245"/><use href="#e" x="474.7" y="45" fill="#00f"/><use href="#y8" x="490"/><use href="#P" x="735"/>
<rect class="bl" width="980" height="60"/>
<text class="mn" y="-7"><tspan x="0">145</tspan><tspan x="245">146</tspan><tspan x="490">147</tspan><tspan x="735">148</tspan></text>
<text class="t1" y="76.5"><tspan x="243">200</tspan><tspan x="488">225</tspan><tspan x="733">200</tspan><tspan x="978">200</tspan></text>
<text class="t2" y="89.5"><tspan x="243">246401</tspan><tspan x="488">249101</tspan><tspan x="733">251501</tspan><tspan x="978">253901</tspan></text>
<text class="t3" y="102.5"><tspan x="243">24.12%</tspan><tspan x="488">11.62%</tspan><tspan x="733">0.00%</tspan><tspan x="978">0.00%</tspan></text></g>

<g id="row37" transform="translate(32,5422)"><use href="#gd"/>
<use href="#r8"/><use href="#e" x="229.7" y="45" fill="#00f"/><use href="#o8" x="245"/><use href="#y8" x="490"/><use href="#P" x="735"/>
<rect class="bl" width="227.3" height="60"/><rect class="pk" x="227.3" width="17.7" height="60"/>
<text class="mn" y="-7"><tspan x="0">149</tspan><tspan x="245">150</tspan><tspan x="490">151</tspan><tspan x="735">152</tspan></text>
<text class="t1" y="76.5"><tspan x="243">225</tspan><tspan x="488">200</tspan><tspan x="733">200</tspan><tspan x="978">200</tspan></text>
<text class="t2" y="89.5"><tspan x="243">256601</tspan><tspan x="488">257951</tspan><tspan x="733">259151</tspan><tspan x="978">260351</tspan></text>
<use href="#p0"/></g>

<g id="row38" transform="translate(32,5563)"><use href="#gd"/>
<use href="#r8"/><use href="#e" x="229.7" y="45" fill="#00f"/><use href="#o8" x="245"/><use href="#y8" x="490"/><use href="#P" x="735"/>
<text class="mn" y="-7"><tspan x="0">153</tspan><tspan x="245">154</tspan><tspan x="490">155</tspan><tspan x="735">156</tspan></text>
<text class="t1" y="76.5"><tspan x="243">225</tspan><tspan x="488">200</tspan><tspan x="733">200</tspan><tspan x="978">200</tspan></text>
<text class="t2" y="89.5"><tspan x="243">261701</tspan><tspan x="488">262901</tspan><tspan x="733">264101</tspan><tspan x="978">265301</tspan></text>
<use href="#p0"/></g>

<g id="row39" transform="translate(32,5704)"><use href="#gd"/>
<use href="#r8"/><use href="#e" x="229.7" y="45" fill="#00f"/><use href="#o8" x="245"/><use href="#y8" x="490"/>
<use href="#e" x="735" fill="#0f0"/><use href="#e" x="765.6" y="15" fill="#f00"/><use href="#e" x="796.3" y="30" fill="#ff0"/><use href="#e" x="826.9" y="45" fill="#00f"/><rect x="857.5" y="42" width="45.9" height="6" fill="#00f"/><use href="#e" x="857.5" y="45" fill="#00f"/><rect x="918.8" y="57" width="45.9" height="6" fill="#fa0"/><use href="#e" x="918.8" y="60" fill="#fa0"/>
<text class="mn" y="-7"><tspan x="0">157</tspan><tspan x="245">158</tspan><tspan x="490">159</tspan><tspan x="735">160</tspan></text>
<text class="t1" y="76.5"><tspan x="243">225</tspan><tspan x="488">200</tspan><tspan x="733">200</tspan><tspan x="978">168</tspan></text>
<text class="t2" y="89.5"><tspan x="243">266651</tspan><tspan x="488">267851</tspan><tspan x="733">269051</tspan><tspan x="978">270059</tspan></text>
<use href="#p0"/></g>

<g id="row40" transform="translate(32,5845)">
<rect class="bx" x="566" y="-10" width="414" height="80"/><use href="#gd"/>
<use href="#r8"/><rect x="245" y="27" width="290.9" height="6" fill="#ff0"/><use href="#e" x="245" y="30" fill="#ff0"/>
<use href="#e" x="612.5" y="15" fill="#f00"/><use href="#e" x="643.1" y="30" fill="#ff0"/><use href="#e" x="673.8" y="45" fill="#00f"/><use href="#e" x="704.4" y="60" fill="#fa0"/>
<use href="#e" x="735" y="45" fill="#00f"/><use href="#e" x="765.6" y="30" fill="#ff0"/><use href="#e" x="796.3" y="15" fill="#f00"/><use href="#e" x="826.9" fill="#0f0"/><use href="#e" x="857.5" fill="#0f0"/><use href="#e" x="872.8" y="15" fill="#f00"/><use href="#e" x="888.1" y="30" fill="#ff0"/><use href="#e" x="918.8" y="45" fill="#00f"/><use href="#e" x="949.4" y="60" fill="#fa0"/>
<text class="mn" y="-7"><tspan x="0">161</tspan><tspan x="245">162</tspan><tspan x="490">163</tspan><tspan x="735">164</tspan></text>
<text class="t1" y="76.5"><tspan x="243">200</tspan><tspan x="488">73</tspan><tspan x="733">9</tspan><tspan x="978">0</tspan></text>
<text class="t2" y="89.5"><tspan x="243">271259</tspan><tspan x="488">271697</tspan><tspan x="733">271751</tspan><tspan x="978">271751</tspan></text>
<use href="#p0"/></g>

<g id="row41" transform="translate(32,5986)">
<rect class="bx" y="-10" width="696" height="80"/><use href="#gd"/>
<use href="#e" y="60" fill="#fa0"/><use href="#e" x="30.6" y="45" fill="#00f"/><use href="#e" x="61.3" fill="#0f0"/><use href="#e" x="91.9" y="15" fill="#f00"/><use href="#e" x="122.5" y="30" fill="#ff0"/><use href="#e" x="153.1" y="45" fill="#00f"/><use href="#e" x="183.8" y="60" fill="#fa0"/><use href="#e" x="199.1" y="45" fill="#00f"/><use href="#e" x="214.4" y="60" fill="#fa0"/><use href="#e" x="229.7" y="45" fill="#00f"/>
<use href="#e" x="245" y="60" fill="#fa0"/><use href="#e" x="260.3" y="45" fill="#00f"/><use href="#e" x="275.6" y="30" fill="#ff0"/><use href="#e" x="290.9" y="45" fill="#00f"/><use href="#e" x="306.3" y="30" fill="#ff0"/><use href="#e" x="321.6" y="45" fill="#00f"/><use href="#e" x="336.9" y="30" fill="#ff0"/><use href="#e" x="352.2" y="15" fill="#f00"/><use href="#e" x="367.5" y="30" fill="#ff0"/><use href="#e" x="382.8" y="15" fill="#f00"/><use href="#e" x="398.1" y="30" fill="#ff0"/><use href="#e" x="413.4" y="45" fill="#00f"/><use href="#e" x="428.8" y="30" fill="#ff0"/><use href="#e" x="444.1" y="45" fill="#00f"/><use href="#e" x="444.1" y="60" fill="#fa0"/><use href="#e" x="459.4" y="45" fill="#00f"/><use href="#e" x="459.4" y="60" fill="#fa0"/><use href="#e" x="474.7" y="45" fill="#00f"/><use href="#e" x="474.7" y="60" fill="#fa0"/>
<use href="#e7" x="490" y="45" fill="#00f"/><use href="#e7" x="505.3" y="45" fill="#00f"/><use href="#e4" x="490" y="60" fill="#fa0"/><use href="#e4" x="505.3" y="60" fill="#fa0"/>
<g fill="#ff0"><use href="#e" x="612.5" y="30"/><use href="#e" x="627.8" y="30"/><use href="#e" x="643.1" y="30"/><use href="#e" x="658.4" y="30"/><use href="#e" x="673.8" y="30"/><use href="#e" x="689.1" y="30"/></g>
<text class="mn" y="-7"><tspan x="0">165</tspan><tspan x="245">166</tspan><tspan x="490">167</tspan><tspan x="735">168</tspan></text>
<use href="#a0"/><text class="t2" y="89.5"><tspan x="243">271751</tspan><tspan x="488">271751</tspan><tspan x="733">271751</tspan><tspan x="978">271751</tspan></text>
<use href="#p0"/></g>

<g id="row42" transform="translate(32,6127)"><use href="#gd1"/>
<use href="#e" y="15" fill="#f00"/>
<text class="mn" x="0" y="-7">169</text>
<text class="t1" x="243" y="76.5">0</text><text class="t2" x="243" y="89.5">275608</text><text class="t3" x="243" y="102.5">0.00%</text></g>
</g>
</svg>
